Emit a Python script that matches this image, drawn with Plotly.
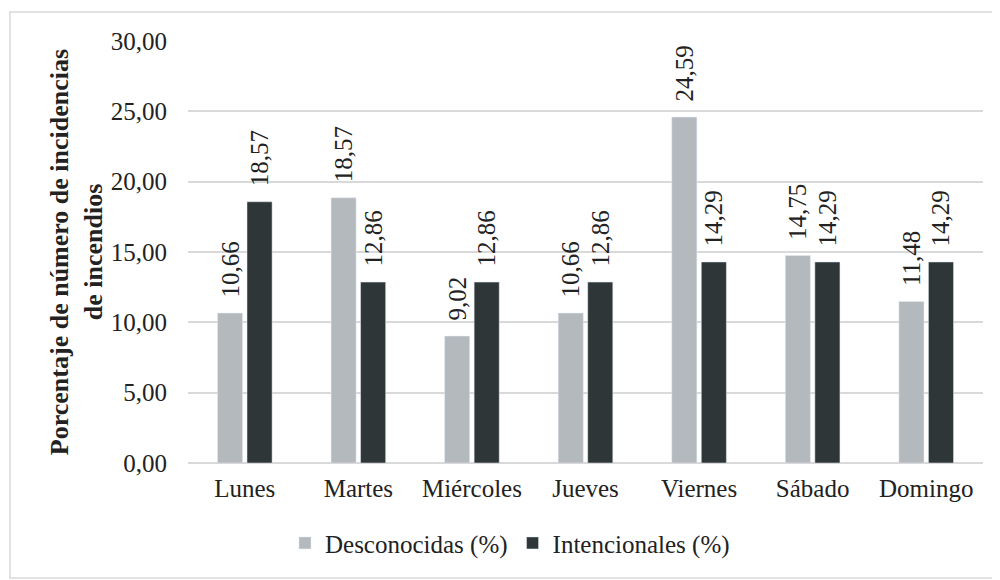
import plotly.graph_objects as go

# ---------------------------- Data ----------------------------
dias = ["Lunes", "Martes", "Miércoles", "Jueves", "Viernes", "Sábado", "Domingo"]
desconocidas = [10.66, 18.85, 9.02, 10.66, 24.59, 14.75, 11.48]
desconocidas_txt = ["10,66", "18,57", "9,02", "10,66", "24,59", "14,75", "11,48"]
intencionales = [18.57, 12.86, 12.86, 12.86, 14.29, 14.29, 14.29]
intencionales_txt = ["18,57", "12,86", "12,86", "12,86", "14,29", "14,29", "14,29"]

color_desc = "#b4b9be"
color_int = "#2e3638"
font_serif = "Liberation Serif"
pad = "\u00a0\u00a0"  # small gap between bar top and rotated label

# ---------------------------- Figure ----------------------------
fig = go.Figure()
fig.add_bar(x=dias, y=desconocidas, name="Desconocidas (%)",
            marker_color=color_desc,
            text=[pad + t for t in desconocidas_txt])
fig.add_bar(x=dias, y=intencionales, name="Intencionales (%)",
            marker_color=color_int,
            text=[pad + t for t in intencionales_txt])

fig.update_traces(textposition="outside", textangle=-90, cliponaxis=False,
                  constraintext="none",
                  textfont=dict(family=font_serif, size=25, color="#222222"))

fig.update_layout(
    width=1000, height=580,
    paper_bgcolor="white", plot_bgcolor="white",
    font=dict(family=font_serif, size=25, color="#222222"),
    separators=",.",
    barmode="group", bargap=0.48, bargroupgap=0.15,
    margin=dict(l=180, r=25, t=33, b=125),
    legend=dict(orientation="h", x=0.405, xanchor="center", y=-0.19, yanchor="middle",
                font=dict(size=25), itemwidth=30, traceorder="normal"),
)
fig.update_yaxes(range=[0, 30], dtick=5, tickformat=".2f",
                 showgrid=True, gridcolor="#d9d9d9", gridwidth=2,
                 zeroline=True, zerolinecolor="#d9d9d9", zerolinewidth=2,
                 showline=False, ticks="", ticklabelstandoff=20,
                 title=dict(text="<b>Porcentaje de número de incidencias<br>de incendios</b>",
                            font=dict(size=26), standoff=0))
fig.update_xaxes(showgrid=False, showline=False, ticks="", ticklabelstandoff=8)

# light frame around the chart area
fig.add_shape(type="rect", xref="paper", yref="paper",
              x0=-0.224, x1=1.019, y0=-0.2725, y1=1.069,
              line=dict(color="#d9d9d9", width=1.5))

fig.write_html("out.html")
